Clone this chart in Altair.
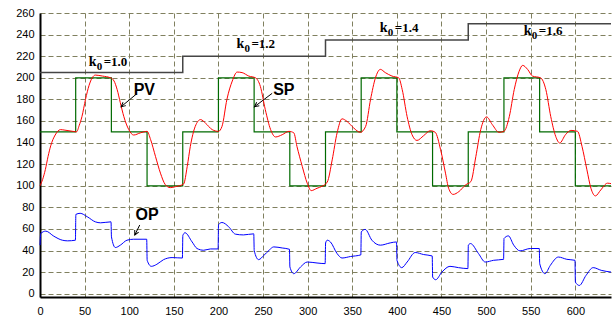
import math
import altair as alt
import pandas as pd

# ---------------- data ----------------
pv_t = [0, 3, 6, 9, 12, 17, 23, 28, 36, 41, 44, 47, 51, 55, 58.5, 62, 70, 79, 83, 86.5,
        90, 94, 99.5, 105, 112.5, 120, 124, 129.5, 135, 140.5, 146, 152, 161, 165, 168.5, 174,
        180, 185.5, 193, 200, 204, 209.5, 215.5, 221, 226.5, 234, 241.5, 247, 252.5, 258.5,
        264, 271.5, 279, 284.5, 288, 294, 299.5, 304, 310.5, 316, 322, 327.5, 333, 338.5,
        344, 351.5, 359, 365, 370.5, 376, 381.5, 387, 394.5, 402, 406, 411.5, 417, 422.5,
        430, 437.5, 443, 449, 454.5, 458, 463, 469.5, 477, 483, 488.5, 494, 500.5, 507,
        514.5, 520, 526, 531.5, 537, 541, 546.5, 552, 561, 567, 572.5, 578, 582.5, 589,
        595, 602.5, 607.5, 613, 617.5, 622.5, 628.5, 636, 640]
pv_v = [100, 106, 115, 127, 137, 147, 152, 151.5, 150.5, 150, 156, 164, 180, 193, 200, 202.5,
        201.6, 200, 197, 189, 177, 164, 152, 147, 149, 150.4, 142.7, 127, 111.7, 101, 98.3,
        99.2, 101.7, 117.8, 136.5, 155, 161.3, 158, 152, 150.4, 155, 180, 197, 205.3, 204.8,
        201.6, 200, 192, 170.6, 152, 145.2, 147.3, 150.4, 149, 136.5, 117.8, 102.4, 95.5,
        97.7, 99.5, 103.5, 124, 149, 162, 159.7, 153.6, 149.5, 155, 180, 200, 207.8, 204.8,
        201.6, 200, 189, 164, 147.3, 142, 146.4, 151, 149.5, 133.4, 111.7, 97.7, 92, 94.6,
        100.8, 104, 127, 152, 163.8, 156.6, 149.5, 150.4, 164, 189, 206, 211.5, 207.8, 201.6,
        200, 189, 164, 145.8, 139.6, 147.3, 151.3, 150.4, 136.5, 114.8, 97.7, 90.6, 96.1,
        102.4, 102]

op_t = [0, 0.8, 6.5, 15.5, 25, 31, 39.7, 40.2, 45, 53, 62, 68, 79.6, 80.1, 84.5, 90, 97.5,
        105, 119.6, 120.1, 124.8, 131, 138.5, 148, 159.6, 160.1, 162.5, 170.5, 176, 183.5,
        191, 199.6, 200.1, 204, 211.5, 219, 228, 239.6, 240.1, 245, 251, 257, 262, 271.5,
        279.6, 280.1, 284.5, 292, 299.5, 310.5, 319.6, 320.1, 322, 325.5, 333, 338.5, 348,
        359.6, 360.1, 364.5, 372, 381.5, 392.5, 399.6, 400.1, 405.5, 411.5, 420.5, 430,
        439.6, 440.1, 443.5, 450.5, 459.5, 469, 479.6, 480.1, 482.5, 491.5, 499, 508.5,
        519.6, 520.1, 525, 531, 538, 549.5, 559.6, 560.1, 566, 572, 581, 590.5, 599.6,
        600.1, 604.5, 612, 620, 629, 640]
op_v = [45, 55.8, 58, 53.3, 49.6, 49, 49.6, 73.5, 74.5, 71.3, 66.6, 65.7, 66.6, 52.7, 42.8,
        45, 49.6, 50.5, 50.5, 31, 25.4, 27.3, 31.6, 33.5, 33.1, 54, 56.5, 48, 41.9, 40.3,
        41.5, 41.5, 64, 66, 62, 55.2, 54.5, 55.5, 40, 31.6, 35.6, 40.5, 43.4, 42.4, 41.2,
        24.8, 18.6, 24.8, 29.4, 28.5, 27.9, 47, 49.6, 48, 37.2, 33.1, 34.5, 36, 57.3, 59.6,
        49.6, 45, 47.1, 48, 31, 24.2, 29.4, 38.2, 36.3, 35, 15.5, 13, 20.1, 25.4, 24.2, 23.3,
        45, 46.5, 37.2, 29.4, 31, 31.9, 51.2, 53.6, 45, 39.7, 41.9, 41.9, 27.9, 18.6, 26.3,
        34, 31.9, 31, 10.8, 7.7, 17, 24.2, 21.7, 20.1]

sp_t = [0, 40, 80, 120, 160, 200, 240, 280, 320, 360, 400, 440, 480, 520, 560, 600, 640]
sp_v = [150, 200, 150, 100, 150, 200, 150, 100, 150, 200, 150, 100, 150, 200, 150, 100, 100]

k_t = [0, 160, 320, 480, 640]
k_v = [205, 220, 235, 250, 250]

k_lab_t = [54.6, 220.2, 380.8, 542.3]
k_lab_v = [211, 227.3, 242.7, 239.6]
k_lab_txt = ["=1.0", "=1.2", "=1.4", "=1.6"]

name_txt = ["PV", "SP", "OP"]
name_t = [105, 261.3, 107]
name_v = [184.1, 184.1, 68.3]

arr_t1 = [107.7, 260.2, 111.8]
arr_v1 = [184.7, 185.6, 63.7]
arr_t2 = [90.9, 240.4, 106.2]
arr_v2 = [173.2, 173.2, 54.4]

x_ticks = list(range(0, 601, 50))
y_ticks = list(range(0, 261, 20))

# ---------------- layout ----------------
W, H = 571, 284
XDOM = [0, 640]
YDOM = [-3, 260]
GRID = "#80805f"

pv_df = pd.DataFrame({"t": pv_t, "v": pv_v})
op_df = pd.DataFrame({"t": op_t, "v": op_v, "i": range(len(op_t))})
sp_df = pd.DataFrame({"t": sp_t, "v": sp_v})
k_df = pd.DataFrame({"t": k_t, "v": k_v})
klab_df = pd.DataFrame({"t": k_lab_t, "v": k_lab_v, "txt": k_lab_txt})
name_df = pd.DataFrame({"t": name_t, "v": name_v, "txt": name_txt})

sx = W / (XDOM[1] - XDOM[0])
sy = H / (YDOM[1] - YDOM[0])
angs = []
for a, b, c, d in zip(arr_t1, arr_v1, arr_t2, arr_v2):
    dxp = (c - a) * sx
    dyp = -(d - b) * sy
    ang = math.degrees(math.atan2(dxp, -dyp)) % 360
    angs.append(ang)
arr_df = pd.DataFrame({"t1": arr_t1, "v1": arr_v1, "t2": arr_t2, "v2": arr_v2, "ang": angs})

xs = alt.Scale(domain=XDOM, nice=False, zero=False)
ys = alt.Scale(domain=YDOM, nice=False, zero=False)

x_axis = alt.Axis(values=x_ticks, grid=True, gridColor=GRID, gridDash=[5, 3], gridWidth=1,
                  domain=True, domainColor="#000", domainWidth=2, ticks=False,
                  labelFont="Liberation Sans", labelFontSize=11, labelColor="#000",
                  labelPadding=8, title=None, labelFlush=False)
y_axis = alt.Axis(values=y_ticks, grid=True, gridColor=GRID, gridDash=[5, 3], gridWidth=1,
                  domain=True, domainColor="#000", domainWidth=2, ticks=False,
                  labelFont="Liberation Sans", labelFontSize=11, labelColor="#000",
                  labelPadding=6, title=None, labelFlush=False)


def X(f):
    return alt.X(f, scale=xs, axis=x_axis)


def Y(f):
    return alt.Y(f, scale=ys, axis=y_axis)


base_sp = alt.Chart(sp_df).mark_line(interpolate="step-after", color="#006a00", strokeWidth=1.2).encode(
    x=X("t:Q"), y=Y("v:Q"))

k_line = alt.Chart(k_df).mark_line(interpolate="step-after", color="#454545", strokeWidth=1.5).encode(
    x=X("t:Q"), y=Y("v:Q"))

pv_line = alt.Chart(pv_df).mark_line(interpolate="monotone", color="#ff0000", strokeWidth=1).encode(
    x=X("t:Q"), y=Y("v:Q"))

op_line = alt.Chart(op_df).mark_line(interpolate="monotone", color="#0000ff", strokeWidth=1).encode(
    x=X("t:Q"), y=Y("v:Q"), order="i:Q")

kfont = dict(font="Liberation Serif", fontWeight="bold", color="#000", align="left", baseline="alphabetic")
k_k = alt.Chart(klab_df).mark_text(text="k", fontSize=14, **kfont).encode(x=X("t:Q"), y=Y("v:Q"))
k_0 = alt.Chart(klab_df).mark_text(text="0", fontSize=11, dx=8, dy=4, **kfont).encode(x=X("t:Q"), y=Y("v:Q"))
k_rest = alt.Chart(klab_df).mark_text(fontSize=13, dx=15, **kfont).encode(
    x=X("t:Q"), y=Y("v:Q"), text="txt:N")

names = alt.Chart(name_df).mark_text(font="Liberation Sans", fontSize=16, fontWeight="bold",
                                     color="#000", align="left", baseline="alphabetic").encode(
    x=X("t:Q"), y=Y("v:Q"), text="txt:N")

arr_rule = alt.Chart(arr_df).mark_rule(color="#000", strokeWidth=1).encode(
    x=X("t1:Q"), y=Y("v1:Q"), x2="t2:Q", y2="v2:Q")

arr_head = alt.Chart(arr_df).mark_point(shape="M -0.55 1.1 L 0 0 L 0.55 1.1", filled=False,
                                        size=64, color="#000", strokeWidth=1, opacity=1).encode(
    x=X("t2:Q"), y=Y("v2:Q"), angle=alt.Angle("ang:Q", scale=None))

chart = alt.layer(base_sp, k_line, pv_line, op_line, k_k, k_0, k_rest, names, arr_rule, arr_head).properties(
    width=W, height=H,
    autosize=alt.AutoSizeParams(type="none"),
    padding={"left": 40, "top": 13, "right": 1, "bottom": 23},
    background="white",
).configure_view(stroke=None)

chart.save("out.html", embed_options={"renderer": "svg", "actions": False})
